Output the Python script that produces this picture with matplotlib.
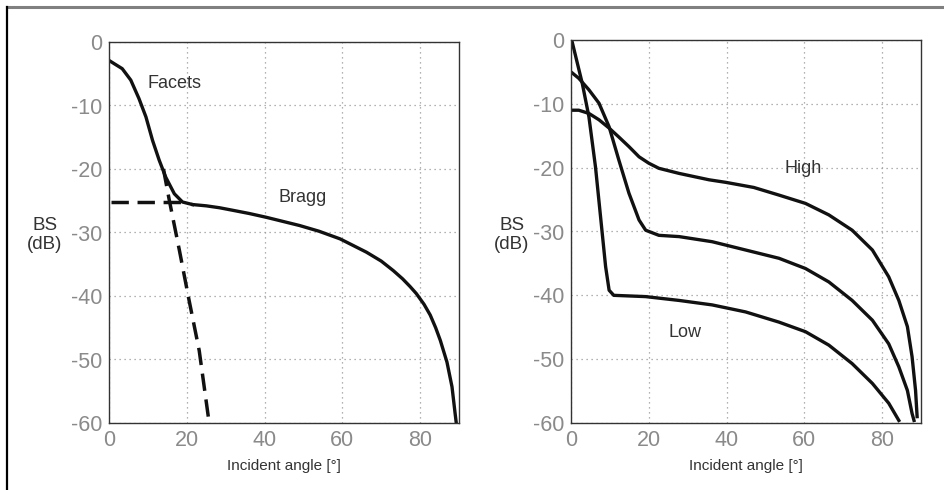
import matplotlib.pyplot as plt
from matplotlib.lines import Line2D

plt.rcParams['font.family'] = ['Liberation Sans', 'DejaVu Sans']
plt.rcParams['axes.unicode_minus'] = False

# left panel: facet + Bragg scattering components
facets_x = [0, 1.3, 3.4, 5.6, 7.7, 9.5, 11.2, 12.9, 14.6, 16.8, 18.9, 21.5]
facets_y = [-2.9, -3.4, -4.2, -6.0, -8.9, -11.8, -15.5, -18.6, -21.3, -23.9, -25.2, -25.6]
bragg_x = [21.5, 25, 28.4, 31.8, 36, 40.4, 49, 54, 59.4, 66.2, 70, 73.1, 75.5, 77.4, 79, 81,
           82.6, 84, 85.2, 86.9, 88.2, 89, 89.3]
bragg_y = [-25.6, -25.8, -26.1, -26.5, -27.0, -27.6, -28.9, -29.8, -31.0, -33.1, -34.5, -36.0,
           -37.3, -38.5, -39.6, -41.3, -43.0, -45.0, -47.0, -50.4, -54.3, -58.5, -60]
facets_dash_x = [14.0, 15.5, 18.1, 20.6, 23.2, 25.6]
facets_dash_y = [-20.0, -24.9, -32.8, -40.7, -48.6, -59.3]
bragg_dash_x = [0.5, 20]
bragg_dash_y = [-25.2, -25.2]

# right panel: three roughness levels
low_x = [0, 0.3, 2.9, 4.6, 6.3, 7.6, 8.9, 9.8, 11, 19.2, 27.8, 36.3, 44.9, 53.5, 60.3, 66.3,
         72.3, 77.5, 81.7, 84.3]
low_y = [0, -0.3, -6.8, -12.0, -19.9, -27.7, -35.5, -39.2, -40.0, -40.2, -40.8, -41.5, -42.6, -44.2,
         -45.7, -47.8, -50.7, -53.8, -56.9, -59.6]
mid_x = [0, 2, 4.6, 7.2, 9.8, 12.3, 14.9, 17.5, 19.2, 22.6, 27.8, 36.3, 44.9, 53.5, 60.3, 66.3,
         72.3, 77.5, 81.7, 84.3, 86.5, 87.7, 88.2]
mid_y = [-5, -6, -7.8, -9.9, -13.6, -18.8, -24.0, -28.2, -29.8, -30.6, -30.8, -31.6, -32.9, -34.2,
         -35.8, -37.9, -40.8, -43.9, -47.6, -51.2, -54.9, -58.5, -59.6]
high_x = [0, 2, 4.6, 7.2, 9.8, 12.3, 14.9, 17.5, 20, 22.6, 27.8, 35.5, 39.8, 47, 53.5, 60.3, 66.3,
          72.3, 77.5, 81.7, 84.3, 86.5, 87.7, 88.6, 89]
high_y = [-11, -11, -11.5, -12.5, -13.8, -15.2, -16.7, -18.3, -19.3, -20.1, -20.9, -21.9, -22.3,
          -23.1, -24.3, -25.6, -27.4, -29.8, -32.9, -37.1, -40.8, -44.9, -49.6, -54.9, -59]

xticks = [0, 20, 40, 60, 80]
yticks = [0, -10, -20, -30, -40, -50, -60]

W, H = 945, 490
fig = plt.figure(figsize=(W / 100, H / 100), dpi=100)
fig.patch.set_facecolor('white')

# outer frame: grey top rule, black left rule
fig.add_artist(Line2D([7 / W, 1], [1 - 7 / H, 1 - 7 / H], color='#808080', lw=2.2))
fig.add_artist(Line2D([7 / W, 7 / W], [0, 1 - 7 / H], color='black', lw=1.6))


def make_axes(left, right, top, bottom):
    ax = fig.add_axes([left / W, 1 - bottom / H, (right - left) / W, (bottom - top) / H])
    ax.set_xlim(0, 90)
    ax.set_ylim(-60, 0)
    ax.set_xticks(xticks)
    ax.set_yticks(yticks)
    ax.grid(True, linestyle=(0, (1, 3)), color='#999999', lw=0.9)
    ax.tick_params(length=0, labelsize=15.5, labelcolor='#8a8a8a', pad=5)
    for s in ax.spines.values():
        s.set_color('#333333')
        s.set_linewidth(1.0)
    ax.set_xlabel('Incident angle [°]', fontsize=11, color='#333333', labelpad=6)
    return ax


ax0 = make_axes(109, 459, 42, 423)
ax0.plot(facets_dash_x, facets_dash_y, color='#111111', lw=2.5, dashes=(5, 2.5))
ax0.plot(bragg_dash_x, bragg_dash_y, color='#111111', lw=2.5, dashes=(5, 2.5))
ax0.plot(facets_x, facets_y, color='#111111', lw=2.4)
ax0.plot(bragg_x, bragg_y, color='#111111', lw=2.4)
ax0.text(10, -7.3, 'Facets', fontsize=13, color='#333333')
ax0.text(43.5, -25.2, 'Bragg', fontsize=13, color='#333333')
fig.text(45 / W, 1 - 235 / H, 'BS\n(dB)', fontsize=13.5, color='#333333',
         ha='center', va='center', linespacing=1.1)

ax1 = make_axes(571, 921, 40, 423)
ax1.plot(low_x, low_y, color='#111111', lw=2.4)
ax1.plot(mid_x, mid_y, color='#111111', lw=2.4)
ax1.plot(high_x, high_y, color='#111111', lw=2.4)
ax1.text(55, -20.8, 'High', fontsize=13, color='#333333')
ax1.text(25.2, -46.6, 'Low', fontsize=13, color='#333333')
fig.text(512 / W, 1 - 235 / H, 'BS\n(dB)', fontsize=13.5, color='#333333',
         ha='center', va='center', linespacing=1.1)

fig.savefig('out.png', dpi=100)
